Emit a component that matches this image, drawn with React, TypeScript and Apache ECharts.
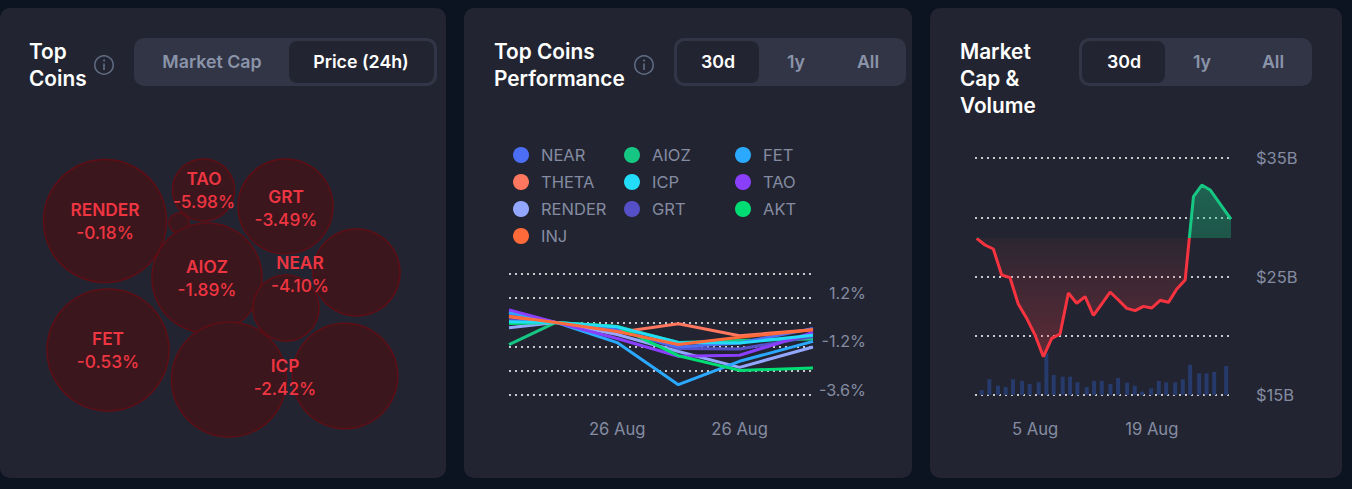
import React, { useEffect, useRef } from "react";
import * as echarts from "echarts";

const FONT = "Inter, 'Noto Sans', sans-serif";
const GRID_TEXT = "#858ca2";

// Top coins bubbles
const bubbleX = [105, 203.5, 285.5, 179, 207, 286, 356.5, 108, 229, 345];
const bubbleY = [221, 190, 206.5, 223, 278, 308, 272.5, 350, 379.5, 376];
const bubbleR = [61.5, 31, 47.5, 10, 55, 33, 43.5, 61, 57.5, 52.7];
const coinNames = ["RENDER", "TAO", "GRT", "AIOZ", "NEAR", "FET", "ICP"];
const coinChanges = ["-0.18%", "-5.98%", "-3.49%", "-1.89%", "-4.10%", "-0.53%", "-2.42%"];
const coinLabelX = [105, 204, 286, 207, 300, 108, 285];
const coinLabelY = [221, 190, 207.5, 278, 274, 350, 377];

// Performance chart
const perfHours = [0, 9.2, 21.2, 33.2, 45.2, 59.6];
const perfDateTicks = [21.2, 45.2];
const perfDateLabel = "26 Aug";
const perfTickLabels: Record<string, string> = { "1.2": "1.2%", "-1.2": "-1.2%", "-3.6": "-3.6%" };
const near = [0.43, 0, -0.36, -1.22, -1.02, -0.3];
const theta = [0.28, 0, -0.5, -0.07, -0.66, -0.36];
const render = [-0.27, 0, -0.6, -1.44, -2.23, -1.22];
const inj = [0.3, 0, -0.45, -1.1, -0.74, -0.36];
const aioz = [-1.1, 0, -0.2, -1.0, -0.9, -0.82];
const icp = [0.03, 0, -0.22, -1.0, -1.02, -0.64];
const grt = [0.13, 0, -0.3, -1.3, -1.32, -0.7];
const fet = [0.5, 0, -1.0, -3.09, -1.93, -0.94];
const tao = [0.62, 0, -0.8, -1.68, -1.63, -0.5];
const akt = [-0.06, 0, -0.2, -1.65, -2.38, -2.26];

// Market cap & volume
const capDays = [0,1,2,3,4,5,6,7,8,9,10,11,12,13,14,15,16,17,18,19,20,21,22,23,24,25,26,27,28,29,30,30.5];
const capValues = [28.22,27.66,27.32,25.13,24.9,22.65,21.47,20.06,18.23,19.78,20.15,23.61,22.74,23.3,21.72,22.68,23.69,23.02,22.31,22.12,22.48,22.34,22.99,22.82,23.95,24.7,31.74,32.72,32.3,31.32,30.33,29.85];
const capBase = 28.22;
const volDays = [0.6,1.52,2.56,3.48,4.36,5.44,6.36,7.44,8.36,9.24,10.32,11.2,12.08,13.2,14.08,15,16.04,16.96,18.04,18.96,19.84,20.92,21.84,22.72,23.8,24.72,25.6,26.68,27.56,28.48,29.92];
const volValues = [0.5,1.57,0.93,0.8,1.57,1.4,1.1,1.27,4.17,2,1.83,1.83,1.27,0.8,1.4,1.4,1.1,1.7,1.23,0.93,0.33,0.67,1.4,1.27,1.27,1.57,3.03,2.17,2.17,2.3,2.9];
const capDateTicks = [7, 21];
const capDateLabels: Record<string, string> = { "7": "5 Aug", "21": "19 Aug" };

const zip = (xs: number[], ys: number[]) => xs.map((x, i) => [x, ys[i]]);

const card = (x: number, w: number) => ({
  type: "rect", shape: { x, y: 8, width: w, height: 470, r: 10 }, style: { fill: "#222531" },
});
const title = (x: number, lines: string[]) =>
  lines.map((t, i) => ({
    type: "text", x, y: 51 + i * 27,
    style: { text: t, fill: "#ffffff", font: `600 20.8px ${FONT}`, verticalAlign: "middle", align: "left" },
  }));
const info = (cx: number) => [
  { type: "circle", shape: { cx, cy: 65, r: 9.2 }, style: { fill: "none", stroke: "#616e85", lineWidth: 1.5 } },
  { type: "rect", shape: { x: cx - 0.8, y: 63.5, width: 1.6, height: 6.5 }, style: { fill: "#616e85" } },
  { type: "circle", shape: { cx, cy: 60.5, r: 1 }, style: { fill: "#616e85" } },
];
const segment = (x: number, w: number, ax: number, aw: number) => [
  { type: "rect", shape: { x, y: 38, width: w, height: 48, r: 10 }, style: { fill: "#323546" } },
  { type: "rect", shape: { x: ax, y: 41, width: aw, height: 42, r: 8 }, style: { fill: "#222531" } },
];
const segText = (t: string, cx: number, active: boolean) => ({
  type: "text", x: cx, y: 61,
  style: {
    text: t, fill: active ? "#ffffff" : "#8a94a9", font: `600 17.8px ${FONT}`,
    align: "center", verticalAlign: "middle",
  },
});
const watermark = (x: number, y: number) => ({
  type: "text", x, y,
  style: { text: "CoinMarketCap", fill: "rgba(255,255,255,0.025)", font: `600 20px ${FONT}`, verticalAlign: "middle" },
});

const dotted = { show: true, lineStyle: { type: [2, 4], color: "#ffffff", width: 1.5, dashOffset: 0 } };
const hiddenAxis = { show: false, axisLine: { show: false }, axisTick: { show: false }, axisLabel: { show: false }, splitLine: { show: false } };

const legendGroup = (left: number, names: string[]) => ({
  left, top: 146, orient: "vertical", itemWidth: 16, itemHeight: 16, itemGap: 9, icon: "circle",
  data: names, padding: 0, selectedMode: false,
  textStyle: { color: GRID_TEXT, fontFamily: FONT, fontSize: 16.5, padding: [0, 0, 0, 7], lineHeight: 18 },
});

const perfSeries: [string, number[], string][] = [
  ["AIOZ", aioz, "#16c784"],
  ["GRT", grt, "#5550c8"],
  ["NEAR", near, "#4b6ef5"],
  ["THETA", theta, "#ff775f"],
  ["RENDER", render, "#94a7ff"],
  ["FET", fet, "#2aa9ff"],
  ["TAO", tao, "#8a3ffc"],
  ["AKT", akt, "#00dc74"],
  ["ICP", icp, "#22dcf8"],
  ["INJ", inj, "#ff6a3a"],
];

const baseStop = (35 - capBase) / 20;
const capLine = {
  type: "linear", x: 0, y: 158, x2: 0, y2: 395, global: true,
  colorStops: [
    { offset: 0, color: "#16c784" }, { offset: baseStop, color: "#16c784" },
    { offset: baseStop, color: "#f6333f" }, { offset: 1, color: "#f6333f" },
  ],
};
const capArea = {
  type: "linear", x: 0, y: 158, x2: 0, y2: 395, global: true,
  colorStops: [
    { offset: 0, color: "rgba(22,199,132,0.42)" }, { offset: baseStop, color: "rgba(22,199,132,0.3)" },
    { offset: baseStop, color: "rgba(234,57,67,0.05)" }, { offset: 0.85, color: "rgba(234,57,67,0.3)" },
    { offset: 1, color: "rgba(234,57,67,0.3)" },
  ],
};

export default function App() {
  const ref = useRef<HTMLDivElement>(null);
  useEffect(() => {
    document.body.style.margin = "0";
    const chart = echarts.init(ref.current!, null, { renderer: "svg" });
    chart.setOption({
      animation: false,
      backgroundColor: "#0d1421",
      textStyle: { fontFamily: FONT },
      graphic: {
        z: -1,
        elements: [
          card(0, 446), card(464, 448), card(930, 412),
          ...segment(134, 303, 289, 145), ...segment(674, 232, 677, 82), ...segment(1079, 233, 1082, 83),
          ...title(29, ["Top", "Coins"]), ...title(494, ["Top Coins", "Performance"]),
          ...title(960, ["Market", "Cap &", "Volume"]),
          ...info(104), ...info(644),
          segText("Market Cap", 212, false), segText("Price (24h)", 361, true),
          segText("30d", 718, true), segText("1y", 796, false), segText("All", 868, false),
          segText("30d", 1124, true), segText("1y", 1202, false), segText("All", 1273, false),
          watermark(280, 414), watermark(665, 367), watermark(1090, 372),
        ],
      },
      legend: [
        legendGroup(513, ["NEAR", "THETA", "RENDER", "INJ"]),
        legendGroup(624, ["AIOZ", "ICP", "GRT"]),
        legendGroup(735, ["FET", "TAO", "AKT"]),
      ],
      grid: [
        { left: 0, top: 0, width: 446, height: 489 },
        { left: 509, top: 274, width: 304, height: 121 },
        { left: 975, top: 158, width: 256, height: 237 },
      ],
      xAxis: [
        { gridIndex: 0, type: "value", min: 0, max: 446, ...hiddenAxis },
        {
          gridIndex: 1, type: "value", min: 0, max: 59.6,
          axisLine: { show: false }, axisTick: { show: false }, splitLine: { show: false },
          axisLabel: {
            customValues: perfDateTicks, formatter: () => perfDateLabel, color: GRID_TEXT,
            fontFamily: FONT, fontSize: 16.6, margin: 25,
          },
        },
        {
          gridIndex: 2, type: "value", min: -0.2, max: 30.5,
          axisLine: { show: false }, axisTick: { show: false }, splitLine: { show: false },
          axisLabel: {
            customValues: capDateTicks, formatter: (v: number) => capDateLabels[String(v)], color: GRID_TEXT,
            fontFamily: FONT, fontSize: 16.6, margin: 25,
          },
        },
      ],
      yAxis: [
        { gridIndex: 0, type: "value", min: 0, max: 489, inverse: true, ...hiddenAxis },
        {
          gridIndex: 1, type: "value", position: "right", min: -3.6, max: 2.4, interval: 1.2,
          axisLine: { show: false }, axisTick: { show: false }, splitLine: dotted,
          axisLabel: {
            align: "right", margin: 53, color: GRID_TEXT, fontFamily: FONT, fontSize: 16.2,
            verticalAlign: "bottom", lineHeight: 11,
            formatter: (v: number) => perfTickLabels[String(Math.round(v * 10) / 10)] ?? "",
          },
        },
        {
          gridIndex: 2, type: "value", position: "right", min: 15, max: 35, interval: 5,
          axisLine: { show: false }, axisTick: { show: false }, splitLine: dotted,
          axisLabel: {
            align: "left", margin: 25, color: GRID_TEXT, fontFamily: FONT, fontSize: 16.5,
            formatter: (v: number) => (v % 10 === 5 ? `$${v}B` : ""),
          },
        },
        { gridIndex: 2, type: "value", min: 0, max: 23.7, ...hiddenAxis },
      ],
      series: [
        {
          type: "scatter", xAxisIndex: 0, yAxisIndex: 0, clip: false,
          data: bubbleX.map((x, i) => [x, bubbleY[i], bubbleR[i]]),
          symbolSize: (v: number[]) => v[2] * 2,
          itemStyle: { color: "#3c161d", borderColor: "#5e0e14", borderWidth: 1.5, opacity: 1 },
          silent: true,
        },
        {
          type: "scatter", xAxisIndex: 0, yAxisIndex: 0, clip: false, symbolSize: 0, silent: true,
          data: coinNames.map((n, i) => ({ name: n, value: [coinLabelX[i], coinLabelY[i]], change: coinChanges[i] })),
          z: 5,
          itemStyle: { opacity: 1 },
          label: {
            show: true, position: "inside",
            formatter: (p: any) => `{n|${p.name}}\n{c|${p.data.change}}`,
            rich: {
              n: { color: "#ee3542", fontFamily: FONT, fontWeight: 600, fontSize: 17.3, lineHeight: 23, align: "center" },
              c: { color: "#ee3542", fontFamily: FONT, fontWeight: 500, fontSize: 17.3, lineHeight: 23, align: "center" },
            },
          },
        },
        ...perfSeries.map(([name, vals, color]) => ({
          type: "line", name, xAxisIndex: 1, yAxisIndex: 1, data: zip(perfHours, vals), symbol: "none",
          itemStyle: { color }, lineStyle: { color, width: 3 },
        })),
        {
          type: "bar", xAxisIndex: 2, yAxisIndex: 3, data: zip(volDays, volValues), barWidth: 4,
          itemStyle: { color: "#263a6b" }, z: 1, clip: false,
        },
        {
          type: "line", xAxisIndex: 2, yAxisIndex: 2, data: zip(capDays, capValues), symbol: "none", z: 3,
          lineStyle: { color: capLine, width: 3 },
          areaStyle: { origin: capBase, color: capArea, opacity: 1 },
        },
      ],
    });
    return () => chart.dispose();
  }, []);
  return <div ref={ref} style={{ width: 1352, height: 489 }} />;
}
